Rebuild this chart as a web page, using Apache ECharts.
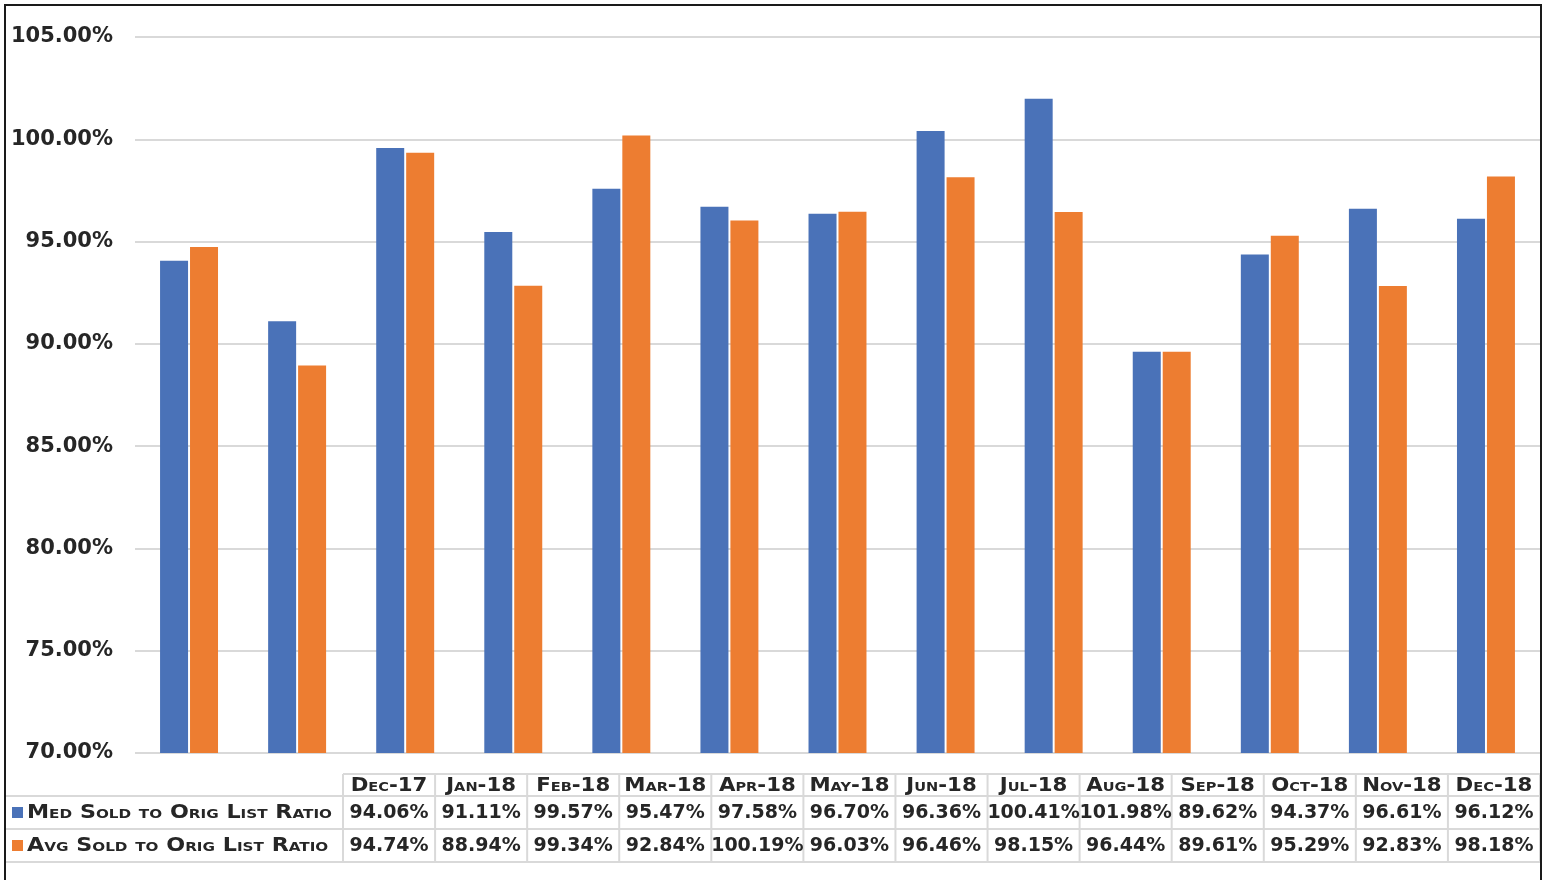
<!DOCTYPE html>
<html>
<head>
<meta charset="utf-8">
<script src="https://cdn.jsdelivr.net/npm/echarts@6/dist/echarts.min.js"></script>
<style>
html,body{margin:0;padding:0;background:#fff;}
#chart{width:1548px;height:880px;}
</style>
</head>
<body>
<div id="chart"></div>
<script>
// ---- data ----
const categories = ['Dec-17','Jan-18','Feb-18','Mar-18','Apr-18','May-18','Jun-18','Jul-18','Aug-18','Sep-18','Oct-18','Nov-18','Dec-18'];
const medRatio = [94.06, 91.11, 99.57, 95.47, 97.58, 96.70, 96.36, 100.41, 101.98, 89.62, 94.37, 96.61, 96.12];
const avgRatio = [94.74, 88.94, 99.34, 92.84, 100.19, 96.03, 96.46, 98.15, 96.44, 89.61, 95.29, 92.83, 98.18];
const seriesNames = ['Med Sold to Orig List Ratio', 'Avg Sold to Orig List Ratio'];
const yMin = 70, yMax = 105, yStep = 5;

// ---- style ----
const colors = ['#4a72b8', '#ed7d31'];
const FAMILY = '"DejaVu Sans", sans-serif';
const textColor = '#262626';
const gridColor = '#d9d9d9';

// ---- table (data table under chart) ----
const tbl = { left: 6, firstCol: 343, right: 1540, rows: [774, 796, 829, 862] };
const colW = (tbl.right - tbl.firstCol) / categories.length;
const graphics = [];
function hline(x1, x2, y) {
  graphics.push({ type: 'line', silent: true, shape: { x1: x1, y1: y, x2: x2, y2: y }, style: { stroke: gridColor, lineWidth: 2 } });
}
function vline(x, y1, y2) {
  graphics.push({ type: 'line', silent: true, shape: { x1: x, y1: y1, x2: x, y2: y2 }, style: { stroke: gridColor, lineWidth: 2 } });
}
hline(tbl.firstCol, tbl.right, tbl.rows[0]);
hline(tbl.left, tbl.right, tbl.rows[1]);
hline(tbl.left, tbl.right, tbl.rows[2]);
hline(tbl.left, tbl.right, tbl.rows[3]);
for (let i = 0; i <= categories.length; i++) {
  vline(tbl.firstCol + i * colW, tbl.rows[0], tbl.rows[3]);
}
categories.forEach(function (c, i) {
  const cx = tbl.firstCol + (i + 0.5) * colW;
  graphics.push({ type: 'text', silent: true, x: cx, y: (tbl.rows[0] + tbl.rows[1]) / 2 + 1, scaleX: 1.12,
    style: { text: c, font: 'small-caps bold 19px ' + FAMILY, fill: textColor, align: 'center', verticalAlign: 'middle' } });
  graphics.push({ type: 'text', silent: true, x: cx, y: (tbl.rows[1] + tbl.rows[2]) / 2 + 1,
    style: { text: medRatio[i].toFixed(2) + '%', font: 'bold 19px ' + FAMILY, fill: textColor, align: 'center', verticalAlign: 'middle' } });
  graphics.push({ type: 'text', silent: true, x: cx, y: (tbl.rows[2] + tbl.rows[3]) / 2 + 1,
    style: { text: avgRatio[i].toFixed(2) + '%', font: 'bold 19px ' + FAMILY, fill: textColor, align: 'center', verticalAlign: 'middle' } });
});
[medRatio, avgRatio].forEach(function (arr, k) {
  const cy = (tbl.rows[k + 1] + tbl.rows[k + 2]) / 2;
  graphics.push({ type: 'rect', silent: true, shape: { x: 12, y: cy - 5.5, width: 11, height: 11 }, style: { fill: colors[k] } });
  graphics.push({ type: 'text', silent: true, x: 27, y: cy + 1, scaleX: 1.17,
    style: { text: seriesNames[k], font: 'small-caps bold 19px ' + FAMILY, fill: textColor, align: 'left', verticalAlign: 'middle' } });
});
// outer frame
graphics.push({ type: 'rect', silent: true, shape: { x: 5, y: 5, width: 1536, height: 900 }, style: { fill: 'none', stroke: '#1a1a1a', lineWidth: 2 } });

const chart = echarts.init(document.getElementById('chart'), null, { renderer: 'canvas' });
chart.setOption({
  animation: false,
  backgroundColor: '#fff',
  textStyle: { fontFamily: FAMILY },
  grid: { left: 135, right: 8, top: 37, bottom: 127, containLabel: false },
  xAxis: {
    type: 'category',
    data: categories,
    axisLine: { show: false },
    axisTick: { show: false },
    axisLabel: { show: false }
  },
  yAxis: {
    type: 'value',
    min: yMin, max: yMax, interval: yStep,
    axisLine: { show: false },
    axisTick: { show: false },
    axisLabel: {
      margin: 22,
      color: textColor, fontSize: 21, fontWeight: 'bold', fontFamily: FAMILY,
      formatter: function (v) { return v.toFixed(2) + '%'; }
    },
    splitLine: { lineStyle: { color: gridColor, width: 2 } }
  },
  series: [
    { name: seriesNames[0], type: 'bar', data: medRatio, barWidth: 28, barGap: '7%', itemStyle: { color: colors[0] } },
    { name: seriesNames[1], type: 'bar', data: avgRatio, barWidth: 28, barGap: '7%', itemStyle: { color: colors[1] } }
  ],
  graphic: graphics
});
</script>
</body>
</html>
